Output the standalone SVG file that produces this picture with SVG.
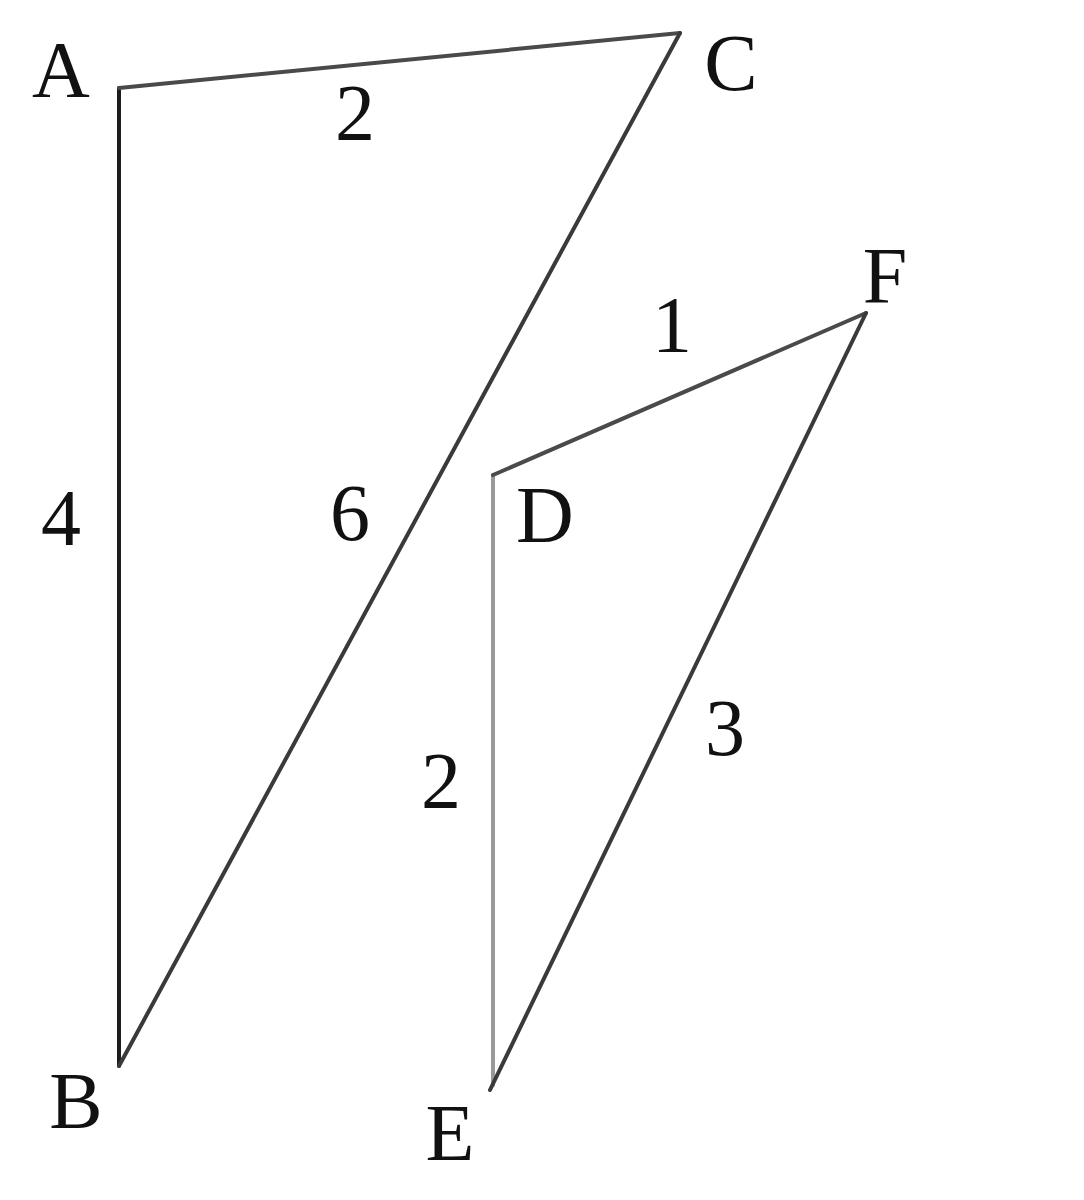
<svg xmlns="http://www.w3.org/2000/svg" width="1084" height="1200" viewBox="0 0 1084 1200">
<style>
.lbl{font-family:"Liberation Serif","Times New Roman",serif;font-size:80px;fill:#111;text-anchor:middle}
.e{fill:none;stroke-width:4;stroke-linecap:round;stroke-linejoin:round}
</style>
<rect width="1084" height="1200" fill="#fff"/>
<g id="connectors">
<line id="AB" class="e" x1="119" y1="88" x2="119" y2="1066" stroke="#1c1c1c"/>
<line id="AC" class="e" x1="119" y1="88" x2="680" y2="33" stroke="#4a4a4a"/>
<line id="CB" class="e" x1="680" y1="33" x2="119" y2="1066" stroke="#3a3a3a" stroke-width="3.5"/>
<line id="DE" class="e" x1="493" y1="475" x2="493" y2="1085" stroke="#999"/>
<line id="DF" class="e" x1="493" y1="475" x2="866" y2="313" stroke="#4a4a4a" stroke-width="3.5"/>
<line id="FE" class="e" x1="866" y1="313" x2="490" y2="1090" stroke="#3a3a3a" stroke-width="3.5"/>
</g>
<g id="A"><text class="lbl" x="61" y="97">A</text></g>
<g id="B"><text class="lbl" x="76" y="1128">B</text></g>
<g id="C"><text class="lbl" x="731" y="90">C</text></g>
<g id="D"><text class="lbl" x="545" y="542">D</text></g>
<g id="E"><text class="lbl" x="450" y="1160">E</text></g>
<g id="F"><text class="lbl" x="885" y="303">F</text></g>
<g id="labels">
<text class="lbl" x="355" y="140">2</text>
<text class="lbl" x="61" y="545">4</text>
<text class="lbl" x="350" y="540">6</text>
<text class="lbl" x="672" y="352">1</text>
<text class="lbl" x="441" y="808">2</text>
<text class="lbl" x="725" y="755">3</text>
</g>
</svg>
